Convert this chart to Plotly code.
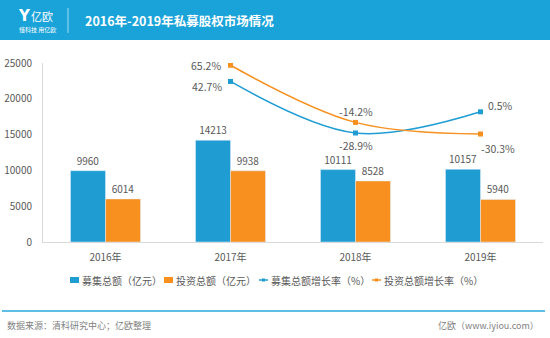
import plotly.graph_objects as go

categories = ["2016年", "2017年", "2018年", "2019年"]
raised = [9960, 14213, 10111, 10157]
invested = [6014, 9938, 8528, 5940]
growth_years = ["2017年", "2018年", "2019年"]
raised_growth = [42.7, -28.9, 0.5]
invested_growth = [65.2, -14.2, -30.3]
yticks = [0, 5000, 10000, 15000, 20000, 25000]

BLUE = "#1f9dd3"
ORANGE = "#f7901e"
HEAD = "#1aa3d9"
GRAY = "#595959"
FONT = "Noto Sans CJK SC"

W, H = 550, 338
L, R, T, B = 43, 7, 63, 96
PW, PH = W - L - R, H - T - B

def px(x):
    return (x - L) / PW

def py(y):
    return (H - B - y) / PH

fig = go.Figure()
fig.add_trace(go.Bar(x=categories, y=raised, name="募集总额（亿元）", marker_color=BLUE,
                     text=[str(v) for v in raised], textposition="outside",
                     textfont=dict(color=GRAY, size=10, family=FONT), cliponaxis=False,
                     showlegend=False))
fig.add_trace(go.Bar(x=categories, y=invested, name="投资总额（亿元）", marker_color=ORANGE,
                     text=[str(v) for v in invested], textposition="outside",
                     textfont=dict(color=GRAY, size=10, family=FONT), cliponaxis=False,
                     showlegend=False))
fig.add_trace(go.Scatter(x=growth_years, y=raised_growth, yaxis="y2", mode="lines+markers",
                         line=dict(color=BLUE, width=1.5, shape="spline", smoothing=1),
                         marker=dict(symbol="square", size=5, color=BLUE),
                         name="募集总额增长率（%）", showlegend=False))
fig.add_trace(go.Scatter(x=growth_years, y=invested_growth, yaxis="y2", mode="lines+markers",
                         line=dict(color=ORANGE, width=1.5, shape="spline", smoothing=1),
                         marker=dict(symbol="square", size=5, color=ORANGE),
                         name="投资总额增长率（%）", showlegend=False))

ann = []
lab = [
    ("2017年", 65.2, "65.2%", "right", -8, 0),
    ("2017年", 42.7, "42.7%", "right", -7, -5),
    ("2018年", -14.2, "-14.2%", "center", 0, 11),
    ("2018年", -28.9, "-28.9%", "center", 0, -13),
    ("2019年", 0.5, "0.5%", "left", 5, 6),
    ("2019年", -30.3, "-30.3%", "left", -2, -14),
]
for x, y, t, xa, xs, ys in lab:
    ann.append(dict(x=x, y=y, xref="x", yref="y2", text=t, showarrow=False, xanchor=xa,
                    yanchor="middle", xshift=xs, yshift=ys,
                    font=dict(color=GRAY, size=10.5, family=FONT)))

shapes = []
shapes.append(dict(type="rect", xref="paper", yref="paper", x0=px(0), x1=px(W), y0=py(40), y1=py(0),
                   fillcolor=HEAD, line_width=0, layer="below"))
shapes.append(dict(type="line", xref="paper", yref="paper", x0=px(68), x1=px(68), y0=py(8), y1=py(33),
                   line=dict(color="rgba(255,255,255,0.6)", width=1)))
ann.append(dict(xref="paper", yref="paper", x=px(83), y=py(20), text="<b>2016年-2019年私募股权市场情况</b>",
                showarrow=False, xanchor="left", yanchor="middle",
                font=dict(color="white", size=12.5, family=FONT)))
ann.append(dict(xref="paper", yref="paper", x=px(16), y=py(16), text="<b>Y</b>",
                showarrow=False, xanchor="left", yanchor="middle",
                font=dict(color="white", size=15, family="DejaVu Sans")))
ann.append(dict(xref="paper", yref="paper", x=px(29), y=py(16), text="亿欧",
                showarrow=False, xanchor="left", yanchor="middle",
                font=dict(color="white", size=11, family=FONT)))
ann.append(dict(xref="paper", yref="paper", x=px(17), y=py(30), text="懂科技 用亿欧",
                showarrow=False, xanchor="left", yanchor="middle",
                font=dict(color="white", size=6, family=FONT)))

leg_y = 280
items = [
    (70, "rect", BLUE, "募集总额（亿元）"),
    (164, "rect", ORANGE, "投资总额（亿元）"),
    (259, "line", BLUE, "募集总额增长率（%）"),
    (372, "line", ORANGE, "投资总额增长率（%）"),
]
for x0, kind, col, txt in items:
    if kind == "rect":
        shapes.append(dict(type="rect", xref="paper", yref="paper", x0=px(x0), x1=px(x0 + 9),
                           y0=py(leg_y + 3), y1=py(leg_y - 3), fillcolor=col, line_width=0))
    else:
        shapes.append(dict(type="line", xref="paper", yref="paper", x0=px(x0), x1=px(x0 + 9),
                           y0=py(leg_y), y1=py(leg_y), line=dict(color=col, width=1.5)))
        shapes.append(dict(type="rect", xref="paper", yref="paper", x0=px(x0 + 3), x1=px(x0 + 6),
                           y0=py(leg_y + 1.5), y1=py(leg_y - 1.5), fillcolor=col, line_width=0))
    ann.append(dict(xref="paper", yref="paper", x=px(x0 + 10), y=py(leg_y), text=txt,
                    showarrow=False, xanchor="left", yanchor="middle",
                    font=dict(color=GRAY, size=10, family=FONT)))

shapes.append(dict(type="line", xref="paper", yref="paper", x0=px(2), x1=px(545), y0=py(311), y1=py(311),
                   line=dict(color="#2aa8dc", width=1.5)))
ann.append(dict(xref="paper", yref="paper", x=px(5), y=py(325), text="数据来源：清科研究中心；亿欧整理",
                showarrow=False, xanchor="left", yanchor="middle",
                font=dict(color="#7f7f7f", size=9, family=FONT)))
ann.append(dict(xref="paper", yref="paper", x=px(541), y=py(325), text="亿欧（www.iyiou.com）",
                showarrow=False, xanchor="right", yanchor="middle",
                font=dict(color="#7f7f7f", size=9, family=FONT)))

fig.update_layout(
    width=W, height=H, autosize=False,
    margin=dict(l=L, r=R, t=T, b=B, pad=0, autoexpand=False),
    paper_bgcolor="white", plot_bgcolor="white",
    barmode="group", bargap=0.44, bargroupgap=0,
    showlegend=False,
    font=dict(family=FONT, color=GRAY, size=10),
    xaxis=dict(showgrid=False, showline=True, linecolor="#d9d9d9", linewidth=1, ticks="",
               automargin=False,
               tickfont=dict(color=GRAY, size=10, family=FONT), ticklabelstandoff=6),
    yaxis=dict(range=[0, 25000], tickvals=yticks, tickformat="d", showgrid=False, showline=True,
               automargin=False,
               linecolor="#d9d9d9", linewidth=1, ticks="", zeroline=False,
               tickfont=dict(color=GRAY, size=10, family=FONT), ticklabelstandoff=8),
    yaxis2=dict(overlaying="y", range=[-180.3, 68.3], visible=False),
    shapes=shapes, annotations=ann,
)

fig.write_html("out.html")
